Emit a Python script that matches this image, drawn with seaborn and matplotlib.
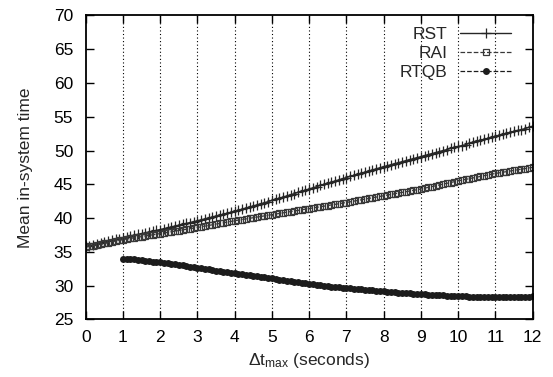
import numpy as np
import pandas as pd
import matplotlib
matplotlib.use("Agg")
import matplotlib.pyplot as plt
from matplotlib.lines import Line2D
import seaborn as sns

x_full = [round(0.1 * i, 1) for i in range(121)]
x_rtqb = [round(1.0 + 0.1 * i, 1) for i in range(111)]

rst = [35.80, 35.93, 36.05, 36.19, 36.31, 36.45, 36.57, 36.70, 36.84, 36.96, 37.10,
       37.22, 37.33, 37.46, 37.58, 37.70, 37.81, 37.94, 38.06, 38.17, 38.30,
       38.43, 38.55, 38.69, 38.81, 38.94, 39.07, 39.20, 39.33, 39.46, 39.60,
       39.73, 39.88, 40.01, 40.15, 40.30, 40.43, 40.57, 40.71, 40.86, 41.00,
       41.16, 41.31, 41.48, 41.63, 41.79, 41.95, 42.11, 42.27, 42.43, 42.60,
       42.77, 42.93, 43.11, 43.27, 43.45, 43.61, 43.79, 43.95, 44.13, 44.30,
       44.47, 44.64, 44.82, 44.98, 45.15, 45.32, 45.49, 45.66, 45.83, 46.00,
       46.16, 46.32, 46.48, 46.64, 46.80, 46.96, 47.12, 47.28, 47.44, 47.60,
       47.75, 47.90, 48.05, 48.20, 48.35, 48.50, 48.65, 48.80, 48.95, 49.10,
       49.25, 49.40, 49.55, 49.69, 49.85, 50.00, 50.14, 50.30, 50.45, 50.60,
       50.73, 50.86, 51.05, 51.28, 51.40, 51.52, 51.65, 51.80, 51.95, 52.10,
       52.25, 52.38, 52.55, 52.68, 52.82, 52.97, 53.10, 53.25, 53.42, 53.60]

rai = [35.70, 35.82, 35.93, 36.04, 36.15, 36.26, 36.37, 36.48, 36.59, 36.70, 36.80,
       36.89, 36.98, 37.07, 37.16, 37.25, 37.34, 37.43, 37.52, 37.61, 37.70,
       37.79, 37.88, 37.97, 38.06, 38.15, 38.24, 38.33, 38.42, 38.51, 38.60,
       38.70, 38.80, 38.90, 39.00, 39.10, 39.20, 39.30, 39.40, 39.50, 39.60,
       39.69, 39.78, 39.87, 39.96, 40.05, 40.14, 40.23, 40.32, 40.41, 40.50,
       40.59, 40.68, 40.77, 40.86, 40.95, 41.04, 41.13, 41.22, 41.31, 41.40,
       41.49, 41.58, 41.67, 41.76, 41.85, 41.94, 42.03, 42.12, 42.21, 42.30,
       42.40, 42.50, 42.60, 42.70, 42.80, 42.90, 43.00, 43.10, 43.20, 43.30,
       43.40, 43.50, 43.60, 43.70, 43.80, 43.90, 44.00, 44.10, 44.20, 44.30,
       44.42, 44.54, 44.66, 44.78, 44.90, 45.02, 45.14, 45.26, 45.38, 45.50,
       45.61, 45.72, 45.83, 45.94, 46.05, 46.16, 46.27, 46.38, 46.49, 46.60,
       46.69, 46.78, 46.87, 46.96, 47.05, 47.14, 47.23, 47.32, 47.41, 47.50]

rtqb = [34.00, 33.97, 33.92, 33.88, 33.82, 33.76, 33.70, 33.62, 33.55, 33.48, 33.42,
        33.35, 33.30, 33.21, 33.15, 33.05, 32.98, 32.90, 32.80, 32.72, 32.62,
        32.55, 32.48, 32.38, 32.30, 32.22, 32.13, 32.05, 31.97, 31.88, 31.80,
        31.72, 31.65, 31.58, 31.50, 31.42, 31.35, 31.28, 31.20, 31.12, 31.05,
        30.96, 30.88, 30.80, 30.72, 30.64, 30.55, 30.48, 30.40, 30.32, 30.25,
        30.18, 30.12, 30.05, 29.99, 29.92, 29.86, 29.80, 29.75, 29.68, 29.62,
        29.57, 29.52, 29.47, 29.42, 29.37, 29.32, 29.27, 29.22, 29.17, 29.12,
        29.08, 29.04, 29.00, 28.95, 28.91, 28.87, 28.83, 28.79, 28.75, 28.71,
        28.68, 28.65, 28.62, 28.59, 28.56, 28.53, 28.50, 28.47, 28.45, 28.42,
        28.40, 28.38, 28.37, 28.35, 28.34, 28.33, 28.32, 28.31, 28.30, 28.30,
        28.30, 28.29, 28.30, 28.31, 28.30, 28.32, 28.33, 28.34, 28.36, 28.38]

series_labels = ["RST", "RAI", "RTQB"]
x_ticks = list(range(0, 13))
y_ticks = list(range(25, 71, 5))

sns.set_style("ticks")
plt.rcParams['font.family'] = ['Liberation Sans', 'DejaVu Sans']
plt.rcParams['mathtext.fontset'] = 'custom'
plt.rcParams['mathtext.rm'] = 'Liberation Sans'
plt.rcParams['mathtext.it'] = 'Liberation Sans'

FS = 12.5
fig = plt.figure(figsize=(5.53, 3.77), dpi=100)
ax = fig.add_axes([0.155, 0.153, 0.808, 0.806])

df_rst = pd.DataFrame({"x": x_full, "y": rst})
df_rai = pd.DataFrame({"x": x_full, "y": rai})
df_rtqb = pd.DataFrame({"x": x_rtqb, "y": rtqb})

c1, c2, c3 = "#262626", "#383838", "#1c1c1c"
sns.lineplot(data=df_rst, x="x", y="y", ax=ax, color=c1, linewidth=1.0,
             marker="+", markersize=7, markeredgewidth=0.9, markeredgecolor=c1)
sns.lineplot(data=df_rai, x="x", y="y", ax=ax, color=c2, linewidth=0.9, linestyle="--",
             marker="s", markersize=5, markerfacecolor="none",
             markeredgewidth=0.9, markeredgecolor=c2)
sns.lineplot(data=df_rtqb, x="x", y="y", ax=ax, color=c3, linewidth=0.9, linestyle="--",
             marker="o", markersize=5, markerfacecolor=c3, markeredgewidth=0,
             markeredgecolor=c3)

ax.set_xlim(0, 12)
ax.set_ylim(25, 70)
ax.set_xticks(x_ticks)
ax.set_yticks(y_ticks)
ax.tick_params(direction="in", length=6, width=1.0, top=True, right=True,
               labelsize=FS, colors="black")
ax.tick_params(axis="y", pad=9)
ax.tick_params(axis="x", pad=8)
for gx in x_ticks[1:-1]:
    ax.axvline(gx, color="black", linestyle=(0, (1, 2.2)), linewidth=0.8, zorder=0)
for s in ax.spines.values():
    s.set_linewidth(1.3)
    s.set_color("black")

ax.set_xlabel(r"Δt$_{\mathregular{max}}$ (seconds)", fontsize=FS, labelpad=4)
ax.set_ylabel("Mean in-system time", fontsize=FS, labelpad=15)

handles = [
    Line2D([], [], color=c1, linewidth=1.0, marker="+", markersize=7, markeredgewidth=0.9),
    Line2D([], [], color=c2, linewidth=0.9, linestyle="--", marker="s", markersize=5,
           markerfacecolor="none", markeredgewidth=0.9),
    Line2D([], [], color=c3, linewidth=0.9, linestyle="--", marker="o", markersize=5,
           markeredgewidth=0),
]
ax.legend(handles, series_labels, loc="upper right", frameon=False, markerfirst=False,
          numpoints=1, handlelength=2.9, fontsize=FS, labelspacing=0.22,
          borderaxespad=0.85, handletextpad=0.75, bbox_to_anchor=(1.0, 1.035))

fig.savefig("out.png", dpi=100)
